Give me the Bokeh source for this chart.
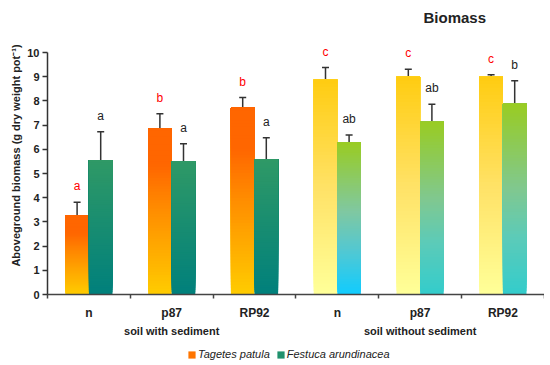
import numpy as np
from bokeh.plotting import figure
from bokeh.core.properties import value
from bokeh.models import (ColumnDataSource, Range1d, FixedTicker, Whisker, TeeHead,
                          LabelSet, Label, Legend, LegendItem, LinearAxis)
from bokeh.embed import file_html
from bokeh.resources import INLINE

# ---------------- data ----------------
group_names = ["soil with sediment", "soil without sediment"]
treatments = ["n", "p87", "RP92", "n", "p87", "RP92"]
group_index = [0, 0, 0, 1, 1, 1]
series_names = ["Tagetes patula", "Festuca arundinacea"]
tagetes_mean = [3.25, 6.88, 7.72, 8.87, 9.00, 9.00]
tagetes_err = [0.56, 0.59, 0.42, 0.51, 0.31, 0.08]
festuca_mean = [5.56, 5.52, 5.59, 6.28, 7.14, 7.88]
festuca_err = [1.17, 0.71, 0.89, 0.31, 0.72, 0.95]
tagetes_letters = ["a", "b", "b", "c", "c", "c"]
festuca_letters = ["a", "a", "a", "ab", "ab", "b"]
y_ticks = [0, 1, 2, 3, 4, 5, 6, 7, 8, 9, 10]

# ---------------- style / layout ----------------
FONT = "Liberation Sans"
BAR_W = 0.285
N_SLICES = 60
W, H = 544, 365            # canvas size
X0_PX, Y0_PX = 47, 294     # canvas position of the axes origin
PX_X, PX_Y = 82.8, 24.2    # pixels per category / per y unit
TAG_STOPS = {
    0: [(0.0, "#FFCC00"), (0.5, "#FF8E00"), (0.78, "#FF6600"), (1.0, "#FF6600")],
    1: [(0.0, "#FFFF99"), (0.5, "#FFE266"), (1.0, "#FFCC11")],
}
FES_STOPS_SED = [(0.0, "#00807C"), (1.0, "#2F9966")]
FES_STOPS_N = [(0.0, "#10CCFF"), (0.3, "#55C8D0"), (0.55, "#80C8A0"), (1.0, "#99CC22")]
FES_STOPS_OTHER = [(0.0, "#33CCCC"), (0.3, "#5CCBB8"), (0.55, "#80C890"), (1.0, "#99CC22")]
TEXT_C = "#222222"


def hex2rgb(h):
    h = h.lstrip("#")
    return np.array([int(h[i:i + 2], 16) for i in (0, 2, 4)], dtype=float)


def color_at(stops, f):
    for (f0, c0), (f1, c1) in zip(stops[:-1], stops[1:]):
        if f <= f1:
            t = 0 if f1 == f0 else (f - f0) / (f1 - f0)
            c = hex2rgb(c0) * (1 - t) + hex2rgb(c1) * t
            return "#%02x%02x%02x" % tuple(int(round(v)) for v in c)
    return stops[-1][1]


def fes_stops(i):
    if group_index[i] == 0:
        return FES_STOPS_SED
    return FES_STOPS_N if treatments[i] == "n" else FES_STOPS_OTHER


centers = np.arange(len(treatments)) + 0.5

# gradient for every bar: stacked slices, each reaching the bar's top (no seams)
sl = dict(left=[], right=[], bottom=[], top=[], color=[])
for i, c in enumerate(centers):
    for left, val, stops in ((c - BAR_W, tagetes_mean[i], TAG_STOPS[group_index[i]]),
                             (c, festuca_mean[i], fes_stops(i))):
        edges = np.linspace(0, val, N_SLICES + 1)
        for k in range(N_SLICES):
            sl["left"].append(left)
            sl["right"].append(left + BAR_W)
            sl["bottom"].append(edges[k])
            sl["top"].append(val)
            sl["color"].append(color_at(stops, (k + 0.5) / N_SLICES))

# the plotting frame fills the whole canvas; axes are pinned at the origin
p = figure(width=W, height=H,
           x_range=Range1d(-X0_PX / PX_X, (W - X0_PX) / PX_X),
           y_range=Range1d(-(H - Y0_PX) / PX_Y, Y0_PX / PX_Y),
           output_backend="svg", toolbar_location=None,
           min_border_left=0, min_border_right=0, min_border_top=0, min_border_bottom=0)
p.outline_line_color = None
p.xgrid.visible = False
p.ygrid.visible = False
p.background_fill_color = "white"

bars = p.quad(left="left", right="right", bottom="bottom", top="top", fill_color="color",
              line_color=None, source=ColumnDataSource(sl))

# error bars (upper only)
tag_x = centers - BAR_W / 2
fes_x = centers + BAR_W / 2
upper_vals = [m + e for m, e in zip(tagetes_mean, tagetes_err)] + \
             [m + e for m, e in zip(festuca_mean, festuca_err)]
err_src = ColumnDataSource(dict(x=list(tag_x) + list(fes_x),
                                lower=tagetes_mean + festuca_mean, upper=upper_vals))
p.add_layout(Whisker(base="x", lower="lower", upper="upper", source=err_src,
                     dimension="height", line_color="#333333", line_width=1.5,
                     lower_head=None,
                     upper_head=TeeHead(size=7, line_color="#333333", line_width=1.5)))

# significance letters
let_src = ColumnDataSource(dict(
    x=list(tag_x) + list(fes_x), y=upper_vals,
    text=tagetes_letters + festuca_letters,
    color=["#FF0000"] * len(tagetes_letters) + [TEXT_C] * len(festuca_letters),
))
p.add_layout(LabelSet(x="x", y="y", text="text", source=let_src, y_offset=9,
                      text_align="center", text_baseline="bottom",
                      text_color="color", text_font=value(FONT),
                      text_font_size=value("12px")))

# y axis
p.yaxis.fixed_location = 0
p.yaxis.bounds = (y_ticks[0], y_ticks[-1])
p.yaxis.ticker = FixedTicker(ticks=y_ticks)
p.yaxis.minor_tick_line_color = None
p.yaxis.major_tick_in = 0
p.yaxis.major_tick_out = 5
p.yaxis.axis_line_color = "#333333"
p.yaxis.axis_line_width = 1.5
p.yaxis.major_tick_line_color = "#333333"
p.yaxis.major_tick_line_width = 1.5
p.yaxis.major_label_text_font = FONT
p.yaxis.major_label_text_font_style = "bold"
p.yaxis.major_label_text_font_size = "11px"
p.yaxis.major_label_text_color = TEXT_C
p.yaxis.major_label_standoff = 3
p.add_layout(Label(x=-32 / PX_X, y=(Y0_PX - 155) / PX_Y, angle=np.pi / 2,
                   text="Aboveground biomass (g dry weight pot\u207b\u00b9)",
                   text_font=FONT, text_font_style="bold", text_font_size="11px",
                   text_color=TEXT_C, text_align="center", text_baseline="middle"))

# x axis: boundary ticks only (no labels)
bound_ticks = list(range(len(treatments) + 1))
p.xaxis.fixed_location = 0
p.xaxis.bounds = (0, len(treatments))
p.xaxis.ticker = FixedTicker(ticks=bound_ticks)
p.xaxis.major_label_overrides = {t: "" for t in bound_ticks}
p.xaxis.minor_tick_line_color = None
p.xaxis.major_tick_in = 0
p.xaxis.major_tick_out = 4
p.xaxis.axis_line_color = "#444444"
p.xaxis.axis_line_width = 1.5
p.xaxis.major_tick_line_color = "#444444"
p.xaxis.major_tick_line_width = 1.5
p.xaxis.major_label_standoff = 0

# treatment labels (second axis)
cat_axis = LinearAxis(fixed_location=0,
                      ticker=FixedTicker(ticks=[float(c) for c in centers]),
                      major_label_overrides={float(c): t for c, t in zip(centers, treatments)},
                      axis_line_color=None, major_tick_line_color=None,
                      minor_tick_line_color=None, major_tick_in=0, major_tick_out=0,
                      major_label_standoff=11, major_label_text_font=FONT,
                      major_label_text_font_style="bold", major_label_text_font_size="12px",
                      major_label_text_color=TEXT_C)
p.add_layout(cat_axis, "below")

# group labels (third axis)
grp_x = [float(np.mean([centers[i] for i in range(len(centers)) if group_index[i] == g]))
         for g in range(len(group_names))]
grp_axis = LinearAxis(fixed_location=0, ticker=FixedTicker(ticks=grp_x),
                      major_label_overrides={x: t for x, t in zip(grp_x, group_names)},
                      axis_line_color=None, major_tick_line_color=None,
                      minor_tick_line_color=None, major_tick_in=0, major_tick_out=0,
                      major_label_standoff=30, major_label_text_font=FONT,
                      major_label_text_font_style="bold", major_label_text_font_size="11px",
                      major_label_text_color=TEXT_C)
p.add_layout(grp_axis, "below")

# title
p.add_layout(Label(x=(423 - X0_PX) / PX_X, y=(Y0_PX - 17) / PX_Y, text="Biomass",
                   text_font=FONT, text_font_style="bold", text_font_size="15px",
                   text_color=TEXT_C, text_baseline="alphabetic"))

# legend: glyphs taken from a mid slice of the first bar of each series
legend = Legend(items=[LegendItem(label=series_names[0], renderers=[bars], index=40),
                       LegendItem(label=series_names[1], renderers=[bars], index=N_SLICES + 40)],
                location=(187, 5), orientation="horizontal",
                glyph_width=9, glyph_height=9, label_standoff=2, spacing=6,
                padding=0, margin=0, label_height=12,
                border_line_color=None, background_fill_alpha=0,
                label_text_font=FONT, label_text_font_style="italic",
                label_text_font_size="11px", label_text_color=TEXT_C)
p.add_layout(legend, "center")

open("out.html", "w").write(file_html(p, INLINE))
